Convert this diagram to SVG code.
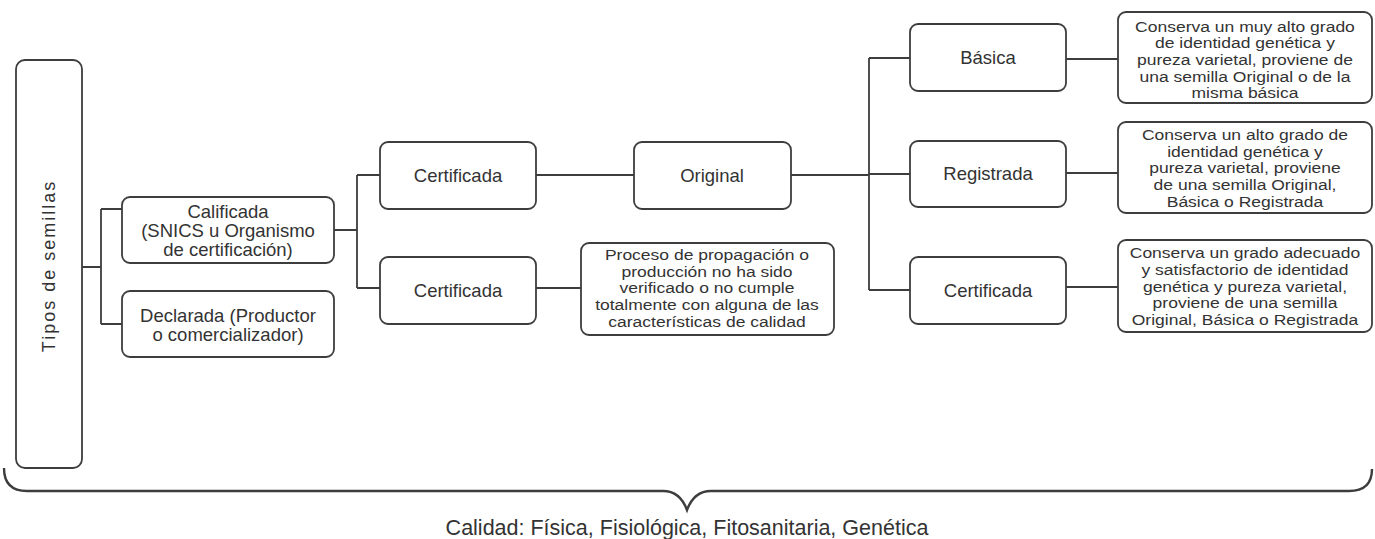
<svg xmlns="http://www.w3.org/2000/svg" width="1375" height="539" viewBox="0 0 1375 539">
<style>
.box{fill:#fff;stroke:#3d3d3d;stroke-width:1.8}
.ln{fill:none;stroke:#3d3d3d;stroke-width:1.8}
.lbl{font-family:"Liberation Sans",Arial,sans-serif;font-size:18.5px;fill:#333;text-anchor:middle}
.dsc{font-family:"Liberation Sans",Arial,sans-serif;font-size:15.5px;fill:#333;text-anchor:middle}
</style>
<rect width="1375" height="539" fill="#fff"/>
<g id="connectors">
<path class="ln" d="M82,267 H101 M101,209 V324 M101,209 H122 M101,324 H122"/>
<path class="ln" d="M334,230 H357 M357,175 V288 M357,175 H380 M357,288 H380"/>
<path class="ln" d="M536,175 H634"/>
<path class="ln" d="M536,288 H581"/>
<path class="ln" d="M791,175 H869 M869,58 V290 M869,58 H910 M869,174 H910 M869,290 H910"/>
<path class="ln" d="M1066,59 H1118 M1066,173 H1118 M1066,287 H1118"/>
</g>
<g id="tipos">
<rect class="box" x="16" y="60" width="66" height="408" rx="9"/>
<text class="lbl" transform="translate(55,266) rotate(-90)" style="font-size:18px;letter-spacing:2px">Tipos de semillas</text>
</g>
<g id="calificada">
<rect class="box" x="122" y="197" width="212" height="66" rx="8"/>
<text class="lbl" x="228" y="218">Calificada</text>
<text class="lbl" x="228" y="237">(SNICS u Organismo</text>
<text class="lbl" x="228" y="256">de certificación)</text>
</g>
<g id="declarada">
<rect class="box" x="122" y="291" width="212" height="66" rx="8"/>
<text class="lbl" x="228" y="322">Declarada (Productor</text>
<text class="lbl" x="228" y="341">o comercializador)</text>
</g>
<g id="certificada1">
<rect class="box" x="380" y="142" width="156" height="67" rx="8"/>
<text class="lbl" x="458" y="182">Certificada</text>
</g>
<g id="certificada2">
<rect class="box" x="380" y="257" width="156" height="67" rx="8"/>
<text class="lbl" x="458" y="297">Certificada</text>
</g>
<g id="original">
<rect class="box" x="634" y="142" width="157" height="67" rx="8"/>
<text class="lbl" x="712" y="182">Original</text>
</g>
<g id="proceso">
<rect class="box" x="581" y="243" width="253" height="92" rx="8"/>
<g transform="matrix(1.13,0,0,1,-91.91,0)">
<text class="dsc" x="707" y="260">Proceso de propagación o</text>
<text class="dsc" x="707" y="276.7">producción no ha sido</text>
<text class="dsc" x="707" y="293.3">verificado o no cumple</text>
<text class="dsc" x="707" y="310">totalmente con alguna de las</text>
<text class="dsc" x="707" y="326.7">características de calidad</text>
</g>
</g>
<g id="basica">
<rect class="box" x="910" y="24" width="156" height="67" rx="8"/>
<text class="lbl" x="988" y="64">Básica</text>
</g>
<g id="registrada">
<rect class="box" x="910" y="141" width="156" height="66" rx="8"/>
<text class="lbl" x="988" y="180">Registrada</text>
</g>
<g id="certificada3">
<rect class="box" x="910" y="257" width="156" height="67" rx="8"/>
<text class="lbl" x="988" y="297">Certificada</text>
</g>
<g id="desc-basica">
<rect class="box" x="1118" y="12" width="254" height="91" rx="8"/>
<g transform="matrix(1.13,0,0,1,-161.85,0)">
<text class="dsc" x="1245" y="31.7">Conserva un muy alto grado</text>
<text class="dsc" x="1245" y="48.3">de identidad genética y</text>
<text class="dsc" x="1245" y="65">pureza varietal, proviene de</text>
<text class="dsc" x="1245" y="81.7">una semilla Original o de la</text>
<text class="dsc" x="1245" y="98.3">misma básica</text>
</g>
</g>
<g id="desc-registrada">
<rect class="box" x="1118" y="122" width="254" height="91" rx="8"/>
<g transform="matrix(1.13,0,0,1,-161.85,0)">
<text class="dsc" x="1245" y="140">Conserva un alto grado de</text>
<text class="dsc" x="1245" y="156.7">identidad genética y</text>
<text class="dsc" x="1245" y="173.3">pureza varietal, proviene</text>
<text class="dsc" x="1245" y="190">de una semilla Original,</text>
<text class="dsc" x="1245" y="206.7">Básica o Registrada</text>
</g>
</g>
<g id="desc-certificada">
<rect class="box" x="1118" y="240" width="254" height="92" rx="8"/>
<g transform="matrix(1.13,0,0,1,-161.85,0)">
<text class="dsc" x="1245" y="258.3">Conserva un grado adecuado</text>
<text class="dsc" x="1245" y="275">y satisfactorio de identidad</text>
<text class="dsc" x="1245" y="291.7">genética y pureza varietal,</text>
<text class="dsc" x="1245" y="308.3">proviene de una semilla</text>
<text class="dsc" x="1245" y="325">Original, Básica o Registrada</text>
</g>
</g>
<g id="calidad">
<path class="ln" style="stroke-width:2.4" d="M4,468 Q4,491 27,491 L663,491 Q680,491 687,510 Q694,491 711,491 L1349,491 Q1372,491 1372,469"/>
<text class="lbl" x="687" y="535" style="font-size:21.5px">Calidad: Física, Fisiológica, Fitosanitaria, Genética</text>
</g>
</svg>
